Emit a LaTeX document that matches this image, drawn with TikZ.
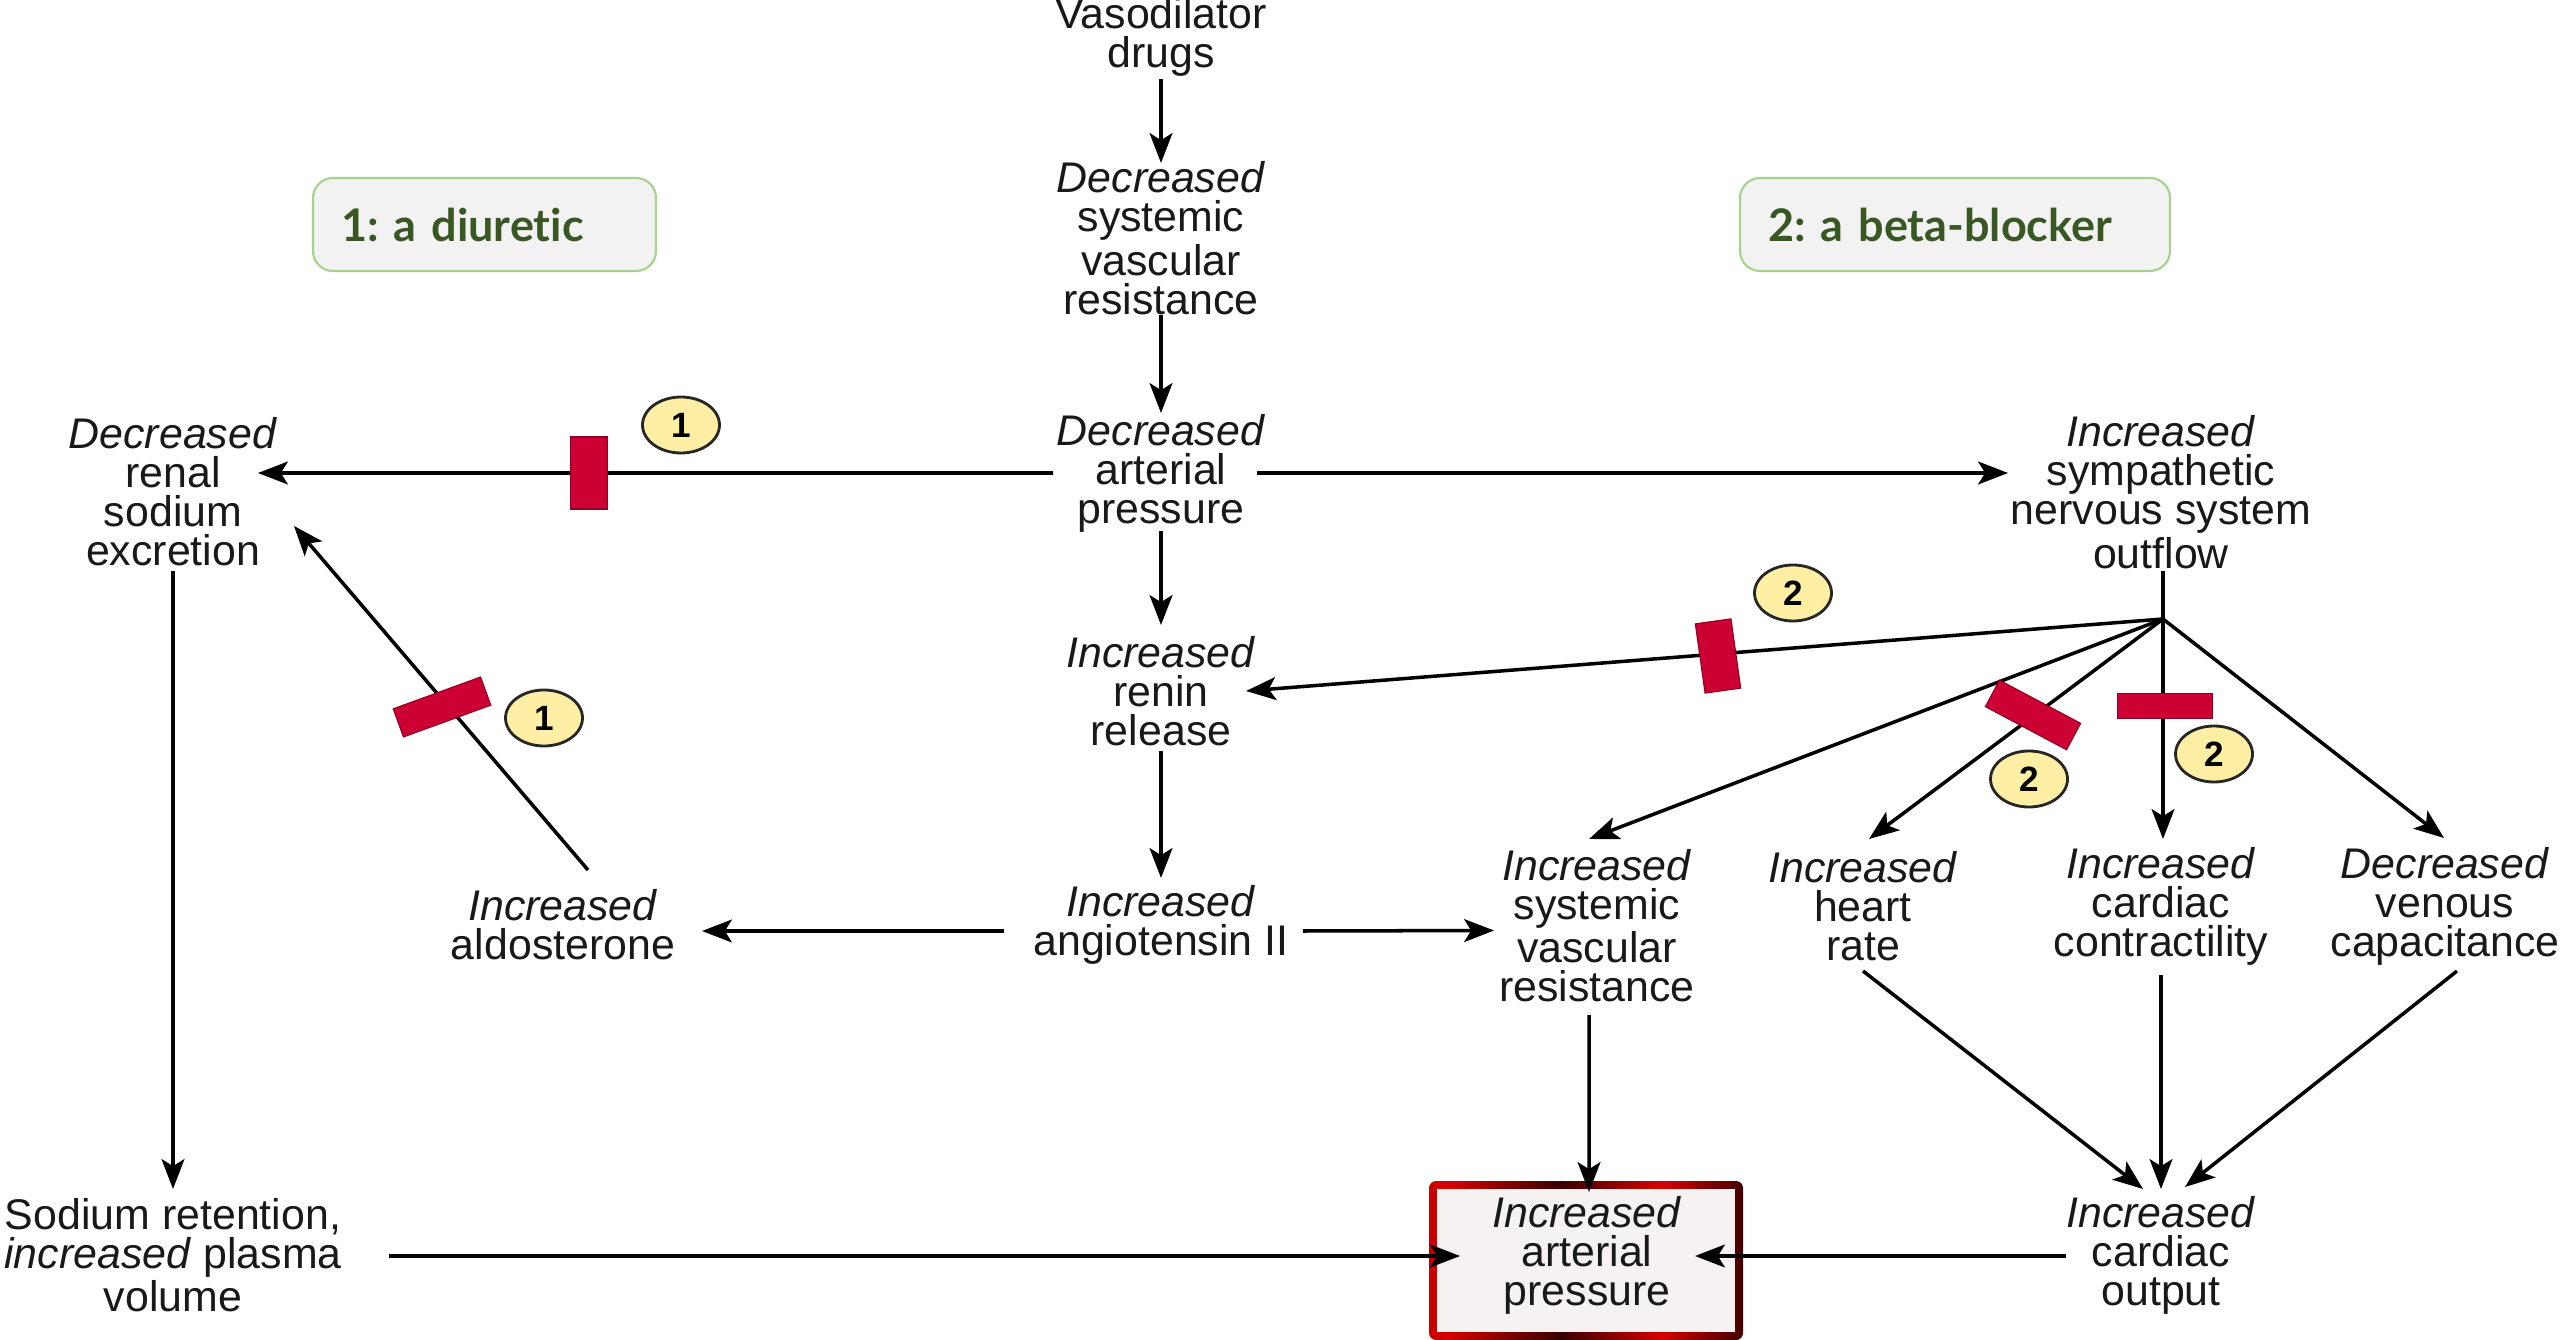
\documentclass[tikz,border=0pt]{standalone}
\usepackage{fontspec}
\setmainfont{Liberation Sans}
\newfontfamily\latofont[Ligatures=NoCommon]{Lato}
\usetikzlibrary{arrows.meta,shapes.geometric,calc}
\definecolor{crimson}{RGB}{204,0,51}
\definecolor{numyellow}{RGB}{255,239,165}
\definecolor{greentext}{RGB}{56,87,35}
\definecolor{greenborder}{RGB}{169,209,142}
\definecolor{boxgray}{RGB}{242,242,242}
\definecolor{iapfill}{RGB}{247,242,242}
\definecolor{bdark}{RGB}{55,0,0}
\definecolor{bred}{RGB}{215,0,0}
\pgfdeclarehorizontalshading{redborder}{100bp}{color(0bp)=(bdark); color(28bp)=(bred); color(46bp)=(bdark); color(62bp)=(bred); color(76bp)=(bdark); color(90bp)=(bred); color(100bp)=(bred)}
\frenchspacing
\begin{document}
\begin{tikzpicture}[x=1cm,y=1cm,
  txt/.style={align=center, font=\fontsize{12.2}{11.1}\selectfont, inner sep=0pt, text=black!90},
  arr/.style={-{Stealth[length=8.5pt,width=6.5pt,inset=2pt]}, line width=1pt},
  ln/.style={line width=1pt},
  blk/.style={fill=crimson, draw=crimson!70!black, line width=0.3pt, inner sep=0pt},
  num/.style={ellipse, fill=numyellow, draw=black!85, line width=0.8pt, minimum width=0.77cm, minimum height=0.56cm, inner sep=0pt, font=\fontsize{10}{10}\selectfont\bfseries},
  lab/.style={draw=greenborder, fill=boxgray, rounded corners=0.2cm, line width=0.6pt, minimum height=0.93cm, inner xsep=0.28cm, align=left, text=greentext, font=\latofont\fontsize{12.8}{14}\selectfont\bfseries}
]
\fill[white] (0,0) rectangle (25.6,-13.4);
\useasboundingbox (0,0) rectangle (25.6,-13.4);

% label boxes
\node[lab, text width=2.87cm] (lab1) at (4.845,-2.245) {1: a diuretic};
\node[lab, text width=3.74cm] (lab2) at (19.55,-2.245) {2: a beta-blocker};

% framed result box
\shade[shading=redborder, rounded corners=2pt] (14.29,-11.81) rectangle (17.43,-13.40);
\fill[iapfill] (14.37,-11.89) rectangle (17.35,-13.32);

% nodes
\node[txt] (vd)    at (11.61,-0.37) {Vasodilator\\drugs};
\node[txt] (dsvr)  at (11.61,-2.38) {\textit{Decreased}\\systemic\\vascular\\resistance};
\node[txt] (dap)   at (11.61,-4.73) {\textit{Decreased}\\arterial\\pressure};
\node[txt] (irr)   at (11.61,-6.91) {\textit{Increased}\\renin\\release};
\node[txt] (iang)  at (11.61,-9.25) {\textit{Increased}\\angiotensin II};
\node[txt] (ialdo) at (5.63,-9.25)  {\textit{Increased}\\aldosterone};
\node[txt] (drse)  at (1.73,-4.92)  {\textit{Decreased}\\renal\\sodium\\excretion};
\node[txt] (srpv)  at (1.73,-12.55) {Sodium retention,\\\textit{increased} plasma\\volume};
\node[txt] (iap)   at (15.87,-12.55) {\textit{Increased}\\arterial\\pressure};
\node[txt] (ico)   at (21.61,-12.55) {\textit{Increased}\\cardiac\\output};
\node[txt] (isns)  at (21.61,-4.92) {\textit{Increased}\\sympathetic\\nervous system\\outflow};
\node[txt] (isvr2) at (15.97,-9.255) {\textit{Increased}\\systemic\\vascular\\resistance};
\node[txt] (ihr)   at (18.63,-9.06) {\textit{Increased}\\heart\\rate};
\node[txt] (icc)   at (21.61,-9.06) {\textit{Increased}\\cardiac\\contractility};
\node[txt] (dvc)   at (24.45,-9.06) {\textit{Decreased}\\venous\\capacitance};
\coordinate (hub) at (21.63,-6.19);

% connectors
\draw[arr] ($(vd)+(0,-0.42)$) -- ($(dsvr)+(0,0.75)$);
\draw[arr] ($(dsvr)+(0,-0.77)$) -- ($(dap)+(0,0.60)$);
\draw[arr] ($(dap)+(-1.08,0)$) -- ($(drse)+(0.85,0.19)$);
\draw[arr] ($(dap)+(0.96,0)$) -- ($(isns)+(-1.53,0.19)$);
\draw[arr] ($(dap)+(0,-0.58)$) -- ($(irr)+(0,0.66)$);
\draw[arr] ($(irr)+(0,-0.60)$) -- ($(iang)+(0,0.47)$);
\draw[arr] ($(iang)+(-1.57,-0.06)$) -- ($(ialdo)+(1.39,-0.06)$);
\draw[arr] ($(iang)+(1.42,-0.06)$) -- ($(isvr2)+(-1.03,-0.05)$);
\draw[arr] ($(ialdo)+(0.25,0.55)$) -- ($(drse)+(1.21,-0.34)$);
\draw[arr] ($(drse)+(0,-0.79)$) -- ($(srpv)+(0,0.66)$);
\draw[arr] ($(srpv)+(2.16,-0.01)$) -- ($(iap)+(-1.27,-0.01)$);
\draw[arr] ($(ico)+(-0.95,-0.01)$) -- ($(iap)+(1.08,-0.01)$);
\draw[arr] ($(isvr2)+(-0.08,-0.895)$) -- ($(iap)+(0.02,0.63)$);
\draw[arr] ($(ihr)+(0,-0.65)$) -- ($(ico)+(-0.18,0.66)$);
\draw[arr] ($(icc)+(0,-0.69)$) -- ($(ico)+(0,0.66)$);
\draw[arr] ($(dvc)+(0.12,-0.65)$) -- ($(ico)+(0.24,0.68)$);
\draw[ln] ($(isns)+(0.02,-0.79)$) -- (hub);
\draw[arr] (hub) -- ($(irr)+(0.85,0)$);
\draw[arr] (hub) -- ($(isvr2)+(-0.08,0.865)$);
\draw[arr] (hub) -- ($(ihr)+(0.06,0.67)$);
\draw[arr] (hub) -- ($(icc)+(0.02,0.67)$);
\draw[arr] (hub) -- ($(dvc)+(-0.01,0.68)$);

% blockers
\node[blk, minimum width=0.37cm, minimum height=0.72cm] (b1) at (5.89,-4.73) {};
\node[blk, minimum width=0.93cm, minimum height=0.30cm, rotate=20] (b2) at (4.42,-7.07) {};
\node[blk, minimum width=0.36cm, minimum height=0.70cm, rotate=8] (b3) at (17.18,-6.56) {};
\node[blk, minimum width=0.92cm, minimum height=0.30cm, rotate=-28] (b4) at (20.33,-7.15) {};
\node[blk, minimum width=0.95cm, minimum height=0.25cm] (b5) at (21.65,-7.06) {};

% numbers
\node[num] (n1a) at (6.81,-4.25) {1};
\node[num] (n1b) at (5.44,-7.18) {1};
\node[num] (n2a) at (17.93,-5.93) {2};
\node[num] (n2b) at (20.29,-7.79) {2};
\node[num] (n2c) at (22.14,-7.54) {2};
\end{tikzpicture}
\end{document}
